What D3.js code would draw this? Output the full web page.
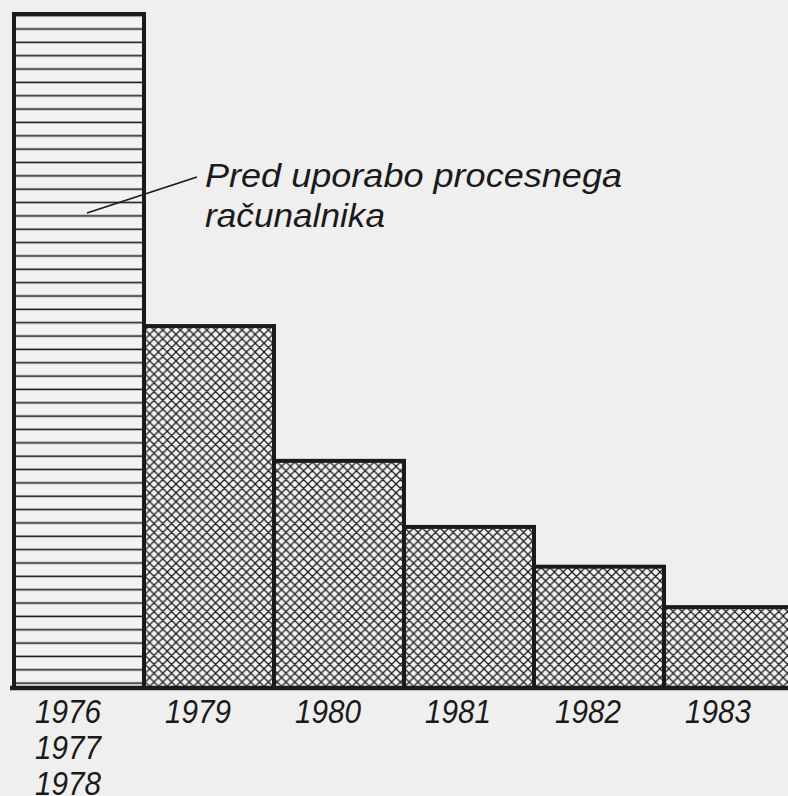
<!DOCTYPE html>
<html>
<head>
<meta charset="utf-8">
<script src="https://cdn.jsdelivr.net/npm/d3@7"></script>
<style>
  html, body { margin: 0; padding: 0; background: #efefef; }
  svg { display: block; }
  text { font-family: 'Liberation Sans', 'DejaVu Sans', sans-serif; font-style: italic; fill: #1a1a1a; }
</style>
</head>
<body>
<div id="chart"></div>
<script>
// Data (relative values, first bar = before the process computer)
const years = ['1976–1978', '1979', '1980', '1981', '1982', '1983'];
const values = [100, 53.7, 33.7, 23.9, 18, 12];
const tickLabels = [['1976', '1977', '1978'], ['1979'], ['1980'], ['1981'], ['1982'], ['1983']];
const noteLines = ['Pred uporabo procesnega', 'računalnika'];
const noteWidths = [417, 180];

const width = 788;
const height = 796;
const margin = { t: 14, r: -6, b: 108, l: 14 };
const ink = '#1a1a1a';

const svg = d3
  .select('#chart')
  .append('svg')
  .attr('width', width)
  .attr('height', height);

svg.append('rect').attr('width', width).attr('height', height).attr('fill', '#efefef');

const defs = svg.append('defs');

// horizontal hatching for the first bar
const hs = 13.35;
const hp = defs
  .append('pattern')
  .attr('id', 'hlines')
  .attr('patternUnits', 'userSpaceOnUse')
  .attr('width', 20)
  .attr('height', hs);
hp.append('rect').attr('width', 20).attr('height', hs).attr('fill', '#f2f2f2');
hp.append('line')
  .attr('x1', 0).attr('x2', 20)
  .attr('y1', 2.3).attr('y2', 2.3)
  .attr('stroke', ink).attr('stroke-width', 1.6);

// cross hatching for the other bars
const s = 8.8;
const cp = defs
  .append('pattern')
  .attr('id', 'cross')
  .attr('patternUnits', 'userSpaceOnUse')
  .attr('width', s)
  .attr('height', s);
cp.append('rect').attr('width', s).attr('height', s).attr('fill', '#f2f2f2');
cp.append('path')
  .attr('d', `M0,0L${s},${s}M${-s / 2},${s / 2}L${s / 2},${s * 1.5}M${s / 2},${-s / 2}L${s * 1.5},${s / 2}` +
    `M0,${s}L${s},0M${-s / 2},${s / 2}L${s / 2},${-s / 2}M${s / 2},${s * 1.5}L${s * 1.5},${s / 2}`)
  .attr('stroke', ink)
  .attr('stroke-width', 1.25);

const x = d3.scaleBand().domain(years).range([margin.l, width - margin.r]).padding(0);
const y = d3.scaleLinear().domain([0, 100]).range([height - margin.b, margin.t]);

const bars = svg.append('g');
bars
  .selectAll('rect')
  .data(years)
  .join('rect')
  .attr('x', (d) => x(d))
  .attr('y', (d, i) => y(values[i]))
  .attr('width', x.bandwidth())
  .attr('height', (d, i) => y(0) - y(values[i]))
  .attr('fill', (d, i) => (i === 0 ? 'url(#hlines)' : 'url(#cross)'))
  .attr('stroke', ink)
  .attr('stroke-width', 4)
  .attr('stroke-linejoin', 'miter');

// baseline
svg
  .append('line')
  .attr('x1', margin.l - 4)
  .attr('x2', width)
  .attr('y1', y(0))
  .attr('y2', y(0))
  .attr('stroke', ink)
  .attr('stroke-width', 4.5);

// year labels (stacked years as one text block)
const labels = svg.append('g').attr('font-size', 34).attr('text-anchor', 'middle');
tickLabels.forEach((lines, i) => {
  const cx = x(years[i]) + x.bandwidth() / 2 - 11;
  const t = labels.append('text').attr('x', cx).attr('y', y(0) + 35);
  lines.forEach((line, j) => {
    t.append('tspan')
      .attr('x', cx)
      .attr('dy', j === 0 ? 0 : 36)
      .attr('textLength', 66)
      .attr('lengthAdjust', 'spacingAndGlyphs')
      .text(line);
  });
});

// annotation
svg
  .append('path')
  .attr('d', 'M87,213L197,177')
  .attr('fill', 'none')
  .attr('stroke', ink)
  .attr('stroke-width', 1.8);

const note = svg.append('g').attr('font-size', 33);
noteLines.forEach((t, i) => {
  note
    .append('text')
    .attr('x', 205)
    .attr('y', 187 + i * 40)
    .attr('textLength', noteWidths[i])
    .attr('lengthAdjust', 'spacingAndGlyphs')
    .text(t);
});
</script>
</body>
</html>
